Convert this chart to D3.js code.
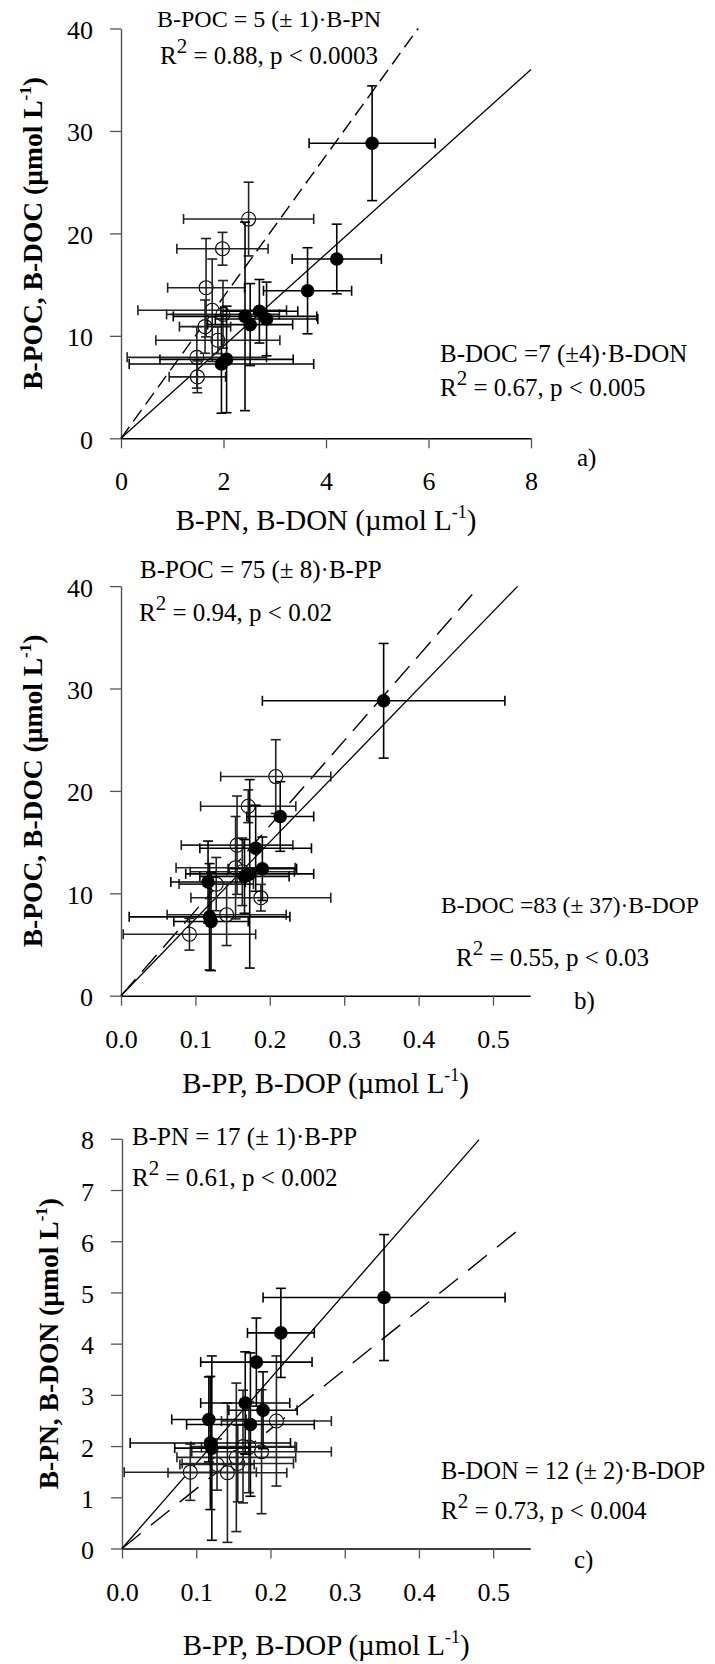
<!DOCTYPE html>
<html><head><meta charset="utf-8">
<script src="https://cdn.jsdelivr.net/npm/d3@7"></script>
<style>
body{margin:0;background:#fff}
svg{display:block}
text{font-family:"Liberation Serif","Times New Roman",serif;fill:#000}
</style>
</head><body>
<svg id="chart" width="715" height="1664"></svg>
<script>
// ---------- data ----------
// particulate fraction (filled circles)
const particulateC   = [28.8, 17.5, 14.4, 12.4, 11.9, 11.1, 11.65, 7.7, 7.25];
const particulateCsd = [5.6, 3.4, 4.2, 3.1, 9.2, 4.0, 3.6, 5.2, 4.8];
const particulateN   = [4.90, 4.21, 3.64, 2.70, 2.42, 2.52, 2.84, 2.06, 1.96];
const particulateNsd = [1.23, 0.87, 0.86, 0.75, 1.40, 0.83, 1.00, 1.30, 1.80];
const particulateP   = [0.353, 0.214, 0.181, 0.190, 0.173, 0.117, 0.166, 0.119, 0.121];
const particulatePsd = [0.163, 0.045, 0.075, 0.046, 0.086, 0.050, 0.060, 0.108, 0.050];
// dissolved fraction (open circles)
const dissolvedC   = [21.4, 18.5, 14.7, 12.5, 12.1, 10.9, 9.57, 7.9, 6.0];
const dissolvedCsd = [3.6, 1.6, 4.8, 5.0, 3.3, 2.6, 1.3, 3.0, 1.55];
const dissolvedN   = [2.49, 1.98, 1.66, 1.78, 1.99, 1.64, 1.89, 1.48, 1.49];
const dissolvedNsd = [1.27, 0.89, 0.75, 1.45, 1.10, 0.50, 1.21, 1.36, 0.55];
const dissolvedP   = [0.208, 0.171, 0.156, 0.154, 0.163, 0.128, 0.188, 0.142, 0.092];
const dissolvedPsd = [0.074, 0.064, 0.075, 0.080, 0.070, 0.050, 0.094, 0.080, 0.089];

// fitted lines through origin: [slope, x end]
const fitParticulateA = [4.5, 8.0];
const fitDissolvedA   = [6.9, 5.8];
const fitParticulateB = [75, 0.533];
const fitDissolvedB   = [83, 0.472];
const fitParticulateC = [16.6, 0.481];
const fitDissolvedC   = [11.65, 0.54];

// tick values and labels
const ticksCarbon = [0, 10, 20, 30, 40];
const ticksNitrogenX = [0, 2, 4, 6, 8];
const ticksNitrogenY = [0, 1, 2, 3, 4, 5, 6, 7, 8];
const ticksPhosphorus = [0, 0.1, 0.2, 0.3, 0.4, 0.5];

const titleCarbon = "B-POC, B-DOC (\u00b5mol L";
const titleNitrogenX = "B-PN, B-DON (\u00b5mol L";
const titleNitrogenY = "B-PN, B-DON (\u00b5mol L";
const titlePhosphorus = "B-PP, B-DOP (\u00b5mol L";

const eqA = ["B-POC = 5 (\u00b1 1)\u00b7B-PN", " = 0.88, p < 0.0003", "B-DOC =7 (\u00b14)\u00b7B-DON", " = 0.67, p < 0.005"];
const eqB = ["B-POC = 75 (\u00b1 8)\u00b7B-PP", " = 0.94, p < 0.02", "B-DOC =83 (\u00b1 37)\u00b7B-DOP", " = 0.55, p < 0.03"];
const eqC = ["B-PN = 17 (\u00b1 1)\u00b7B-PP", " = 0.61, p < 0.002", "B-DON = 12 (\u00b1 2)\u00b7B-DOP", " = 0.73, p < 0.004"];
const panelLetters = ["a)", "b)", "c)"];

// ---------- drawing ----------
const svg = d3.select("#chart");

const panels = [
  { left:121, right:531, top:28.5, bottom:438.3, xDom:[0,8], yDom:[0,40],
    xTicks:ticksNitrogenX, xFmt:d3.format("d"), yTicks:ticksCarbon, yFmt:d3.format("d"),
    px:particulateN, pxs:particulateNsd, py:particulateC, pys:particulateCsd,
    dx:dissolvedN, dxs:dissolvedNsd, dy:dissolvedC, dys:dissolvedCsd,
    fitP:fitParticulateA, fitD:fitDissolvedA, dash:"14,7",
    xTitle:titleNitrogenX, yTitle:titleCarbon, xTitleY:530, yTitleX:42,
    eq:eqA, eqPos:[[157,27],[160,64],[440,362],[440,396]], eqSize:[24,25,25,25],
    letter:panelLetters[0], letterPos:[577,466] },
  { left:121, right:530.2, top:586.1, bottom:995.7, xDom:[0,0.55], yDom:[0,40],
    xTicks:ticksPhosphorus, xFmt:d3.format(".1f"), yTicks:ticksCarbon, yFmt:d3.format("d"),
    px:particulateP, pxs:particulatePsd, py:particulateC, pys:particulateCsd,
    dx:dissolvedP, dxs:dissolvedPsd, dy:dissolvedC, dys:dissolvedCsd,
    fitP:fitParticulateB, fitD:fitDissolvedB, dash:"22,10",
    xTitle:titlePhosphorus, yTitle:titleCarbon, xTitleY:1093, yTitleX:42,
    eq:eqB, eqPos:[[140,578],[139,621],[441,913],[456,966]], eqSize:[25,25,23.5,25],
    letter:panelLetters[1], letterPos:[574,1009] },
  { left:122, right:530.3, top:1138.8, bottom:1548.5, xDom:[0,0.55], yDom:[0,8],
    xTicks:ticksPhosphorus, xFmt:d3.format(".1f"), yTicks:ticksNitrogenY, yFmt:d3.format("d"),
    px:particulateP, pxs:particulatePsd, py:particulateN, pys:particulateNsd,
    dx:dissolvedP, dxs:dissolvedPsd, dy:dissolvedN, dys:dissolvedNsd,
    fitP:fitParticulateC, fitD:fitDissolvedC, dash:"24,13",
    xTitle:titlePhosphorus, yTitle:titleNitrogenY, xTitleY:1655, yTitleX:58,
    eq:eqC, eqPos:[[132,1145],[132,1186],[441,1479],[441,1519]], eqSize:[25,25,24.5,25],
    letter:panelLetters[2], letterPos:[574,1568] }
];

function addTitle(sel, txt, size, bold){
  sel.attr("font-size", size).attr("font-weight", bold ? "bold" : "normal");
  sel.append("tspan").text(txt);
  sel.append("tspan").attr("font-size", size*0.62).attr("dy", -size*0.4).text("-1");
  sel.append("tspan").attr("dy", size*0.4).text(")");
}

function addR2(g, txt, x, y, size){
  const t = g.append("text").attr("x", x).attr("y", y).attr("font-size", size);
  t.append("tspan").text("R");
  t.append("tspan").attr("font-size", size*0.84).attr("dy", -11).text("2");
  t.append("tspan").attr("dy", 11).text(txt);
}

panels.forEach(p => {
  const g = svg.append("g");
  const x = d3.scaleLinear().domain(p.xDom).range([p.left, p.right]);
  const y = d3.scaleLinear().domain(p.yDom).range([p.bottom, p.top]);

  // axes
  const ax = g.append("g").attr("transform", `translate(0,${p.bottom})`)
    .call(d3.axisBottom(x).tickValues(p.xTicks).tickFormat(p.xFmt).tickSize(10).tickSizeOuter(0));
  ax.select(".domain").attr("stroke", "#000").attr("stroke-width", 1.6);
  ax.selectAll(".tick line").attr("stroke", "#555").attr("stroke-width", 1.3);
  ax.selectAll(".tick text").attr("y", 52).attr("dy", 0).attr("font-size", 26)
    .attr("font-family", "Liberation Serif, serif").attr("fill", "#000");

  const ay = g.append("g").attr("transform", `translate(${p.left},0)`)
    .call(d3.axisLeft(y).tickValues(p.yTicks).tickFormat(p.yFmt).tickSize(11).tickSizeOuter(0));
  ay.select(".domain").attr("stroke", "#555").attr("stroke-width", 1.4);
  ay.selectAll(".tick line").attr("stroke", "#555").attr("stroke-width", 1.3);
  ay.selectAll(".tick text").attr("x", -28).attr("dy", 10).attr("font-size", 26)
    .attr("font-family", "Liberation Serif, serif").attr("fill", "#000");
  ax.attr("font-family", null); ay.attr("font-family", null);

  // fitted lines
  g.append("line")
    .attr("x1", x(0)).attr("y1", y(0))
    .attr("x2", x(p.fitP[1])).attr("y2", y(p.fitP[0]*p.fitP[1]))
    .attr("stroke", "#000").attr("stroke-width", 1.3);
  g.append("line")
    .attr("x1", x(0)).attr("y1", y(0))
    .attr("x2", x(p.fitD[1])).attr("y2", y(p.fitD[0]*p.fitD[1]))
    .attr("stroke", "#000").attr("stroke-width", 1.4).attr("stroke-dasharray", p.dash);

  // open circles (dissolved)
  const dIdx = d3.range(p.dx.length);
  const pIdx = d3.range(p.px.length);
  g.selectAll("circle.open").data(dIdx).join("circle").attr("class","open")
    .attr("cx", i => x(p.dx[i])).attr("cy", i => y(p.dy[i])).attr("r", 7)
    .attr("fill", "#fff").attr("stroke", "#000").attr("stroke-width", 1.1);

  // error bars
  const cap = 5;
  function errBars(xs, xsd, ys, ysd, idx, col){
    const eb = g.append("g").attr("stroke", col).attr("stroke-width", 1.6).attr("fill","none");
    idx.forEach(i => {
      const cx = x(xs[i]), cy = y(ys[i]);
      const xl = x(xs[i]-xsd[i]), xr = x(xs[i]+xsd[i]);
      const yt = y(ys[i]+ysd[i]), yb = y(ys[i]-ysd[i]);
      eb.append("line").attr("x1", xl).attr("x2", xr).attr("y1", cy).attr("y2", cy);
      eb.append("line").attr("x1", xl).attr("x2", xl).attr("y1", cy-cap).attr("y2", cy+cap);
      eb.append("line").attr("x1", xr).attr("x2", xr).attr("y1", cy-cap).attr("y2", cy+cap);
      eb.append("line").attr("x1", cx).attr("x2", cx).attr("y1", yt).attr("y2", yb);
      eb.append("line").attr("x1", cx-cap).attr("x2", cx+cap).attr("y1", yt).attr("y2", yt);
      eb.append("line").attr("x1", cx-cap).attr("x2", cx+cap).attr("y1", yb).attr("y2", yb);
    });
  }
  errBars(p.dx, p.dxs, p.dy, p.dys, dIdx, "#222");
  errBars(p.px, p.pxs, p.py, p.pys, pIdx, "#000");

  // filled circles (particulate)
  g.selectAll("circle.fill").data(pIdx).join("circle").attr("class","fill")
    .attr("cx", i => x(p.px[i])).attr("cy", i => y(p.py[i])).attr("r", 6.8)
    .attr("fill", "#000");

  // axis titles
  addTitle(g.append("text").attr("x", (p.left+p.right)/2).attr("y", p.xTitleY)
    .attr("text-anchor","middle"), p.xTitle, 29, false);
  addTitle(g.append("text").attr("text-anchor","middle")
    .attr("transform", `translate(${p.yTitleX},${(p.top+p.bottom)/2}) rotate(-90)`), p.yTitle, 27.5, true);

  // equations
  g.append("text").attr("x", p.eqPos[0][0]).attr("y", p.eqPos[0][1]).attr("font-size", p.eqSize[0]).text(p.eq[0]);
  addR2(g, p.eq[1], p.eqPos[1][0], p.eqPos[1][1], p.eqSize[1]);
  g.append("text").attr("x", p.eqPos[2][0]).attr("y", p.eqPos[2][1]).attr("font-size", p.eqSize[2]).text(p.eq[2]);
  addR2(g, p.eq[3], p.eqPos[3][0], p.eqPos[3][1], p.eqSize[3]);

  g.append("text").attr("x", p.letterPos[0]).attr("y", p.letterPos[1]).attr("font-size", 25).text(p.letter);
});
</script>
</body></html>
